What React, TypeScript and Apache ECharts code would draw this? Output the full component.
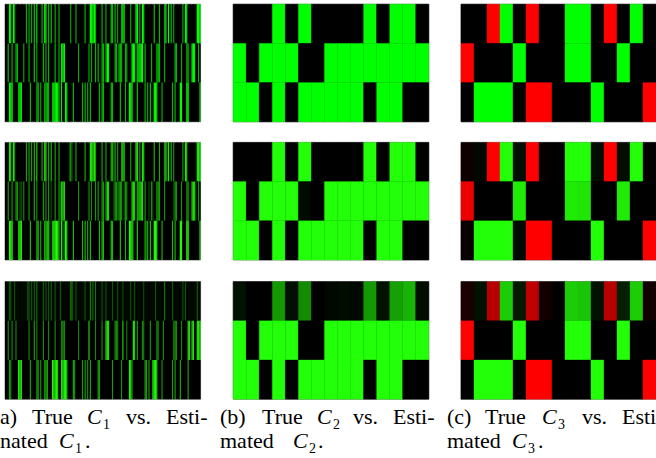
import React, { useEffect, useRef } from "react";
import * as echarts from "echarts";

// ---- Panel (a): 150 column cluster map; each list names the lit columns of one band
const A_TOP = [3,4,6,7,16,18,20,22,24,28,30,31,33,35,38,41,50,54,61,65,66,67,68,69,74,77,81,82,84,86,89,91,96,100,101,103,105,106,114,118,122,123,125,127,129,136,138,139,147,148,149];
const A_MID = [2,5,8,9,14,18,22,24,29,31,33,38,41,43,44,45,56,64,66,69,71,74,75,77,78,79,84,85,87,88,89,92,93,97,98,99,101,102,103,104,105,107,112,116,117,118,122,130,131,135,139,140,143,144,145,148];
const A_BOT = [3,4,5,10,11,12,19,24,25,27,30,31,32,33,36,37,38,39,40,41,43,46,47,52,59,61,63,65,72,74,75,81,82,88,92,95,96,97,101,107,109,111,114,115,116,120,128,130,134,135,139,140,149];
const A_TOP_BRIGHT = [3,4,6,24,30,31,65,66,67,68,90,100,101,105,106,123,125,138,139,147,148,149];
const A_MID_BRIGHT = [43,44,45,78,79,97,98,99,103,104,105,143,144,145];
const A_BOT_BRIGHT = [3,4,5,11,12,37,38,39,40,43,46,47,95,96,97,114,115,116,134,135,139,140];

const A2_TOP_FAINT = [49,51,83,124];
const A2_MID_FAINT = [11,12,35,42,83,86,91,110,113,129,146];
const A2_BOT_FAINT = [34,44,45,98,108];

const A3_TOP_STRONG = [24,50,51,65,67,69,122];
const A3_TOP_WEAK = [3,4,7,17,18,20,22,29,31,33,35,38,42,54,61,74,77,82,86,90,96,99,106,115,128,136,138,147];
const A3_MID_STRONG = [64,77,78,79,90,98,99,140,141,143,144,147,148,149];
const A3_MID_WEAK = [2,5,8,18,22,24,29,33,38,43,44,45,56,69,74,84,85,86,93,101,105,106,111,116,117,121,129,130,131,135];
const A3_BOT_STRONG = [10,11,12,36,37,38,39,40,43,44,45,46,47,95,96,113,114,115,116];
const A3_BOT_WEAK = [3,4,19,24,25,27,30,31,32,52,53,59,61,63,65,71,72,82,89,97,107,108,110,120,128,130,134,140];

// ---- Panel (b): 15 column cluster map
const B_TRUE = [
  [0,0,0,1,0,1,0,0,0,0,1,0,1,1,0],
  [1,0,1,1,1,0,0,1,1,1,1,1,1,1,1],
  [1,1,0,1,0,1,1,1,1,1,0,1,1,0,0],
];
const B_EST_2 = [
  [0,0,0,1,0,1,0,0,0,0,1,0,1,1,0],
  [1,0,1,1,1,0.04,0,1,1,1,1,1,1,1,1],
  [1,1,0,1,0,1,1,1,1,1,0,1,1,0,0],
];
const B_EST_3 = [
  [0.07,0,0,0.6,0.06,0.55,0,0.03,0.05,0.04,0.6,0.07,0.63,0.7,0.05],
  [1,0,1,1,1,0,0,1,1,1,1,1,1,1,1],
  [1,1,0,1,0,1,1,1,1,1,0,1,1,0,0],
];

// ---- Panel (c): 15 column cluster map, negative values are red
const C_TRUE = [
  [0,0,-1,1,0,-1,0,0,1,1,0,-1,0,1,0],
  [-1,0,0,0,1,0,0,0,1,1,0,0,1,0,0],
  [0,1,1,1,0,-1,-1,0,0,0,1,0,0,0,-1],
];
const C_EST_2 = [
  [-0.06,0.03,-1,1,0.06,-1,-0.02,0,1,1,0.05,-1,0.06,1,-0.02],
  [-0.92,0,0,0,0.92,0,0,0,0.92,0.9,0,0,0.92,0,0],
  [-0.04,1,1,1,0.04,-1,-1,0,0,0,1,0,0,0,-1],
];
const C_EST_3 = [
  [-0.1,0.07,-0.72,0.8,0.1,-0.75,-0.07,0,0.8,0.77,0.07,-0.72,0.12,0.8,-0.07],
  [-1,0,0,0,1,0,0,0,1,1,0,0,1,0,0],
  [0,1,1,1,0,-1,-1,0,0,0,1,0,0,0,-1],
];

const band = (groups: [number[], number][], base = 0) => {
  const out: number[] = new Array(150).fill(base);
  groups.forEach(([cols, level]) => cols.forEach((c) => { out[c] = level; }));
  return out;
};

const A_TRUE = [
  band([[A_TOP, 0.72], [A_TOP_BRIGHT, 1]]),
  band([[A_MID, 0.72], [A_MID_BRIGHT, 1]]),
  band([[A_BOT, 0.72], [A_BOT_BRIGHT, 1]]),
];
const A_EST_2 = [
  band([[A2_TOP_FAINT, 0.3], [A_TOP, 0.65], [A_TOP_BRIGHT, 0.9]]),
  band([[A2_MID_FAINT, 0.3], [A_MID, 0.6], [A_MID_BRIGHT, 0.85]]),
  band([[A2_BOT_FAINT, 0.35], [A_BOT, 0.72], [A_BOT_BRIGHT, 1]]),
];
const A_EST_3 = [
  band([[A3_TOP_WEAK, 0.34], [A3_TOP_STRONG, 0.48]], 0.04),
  band([[A3_MID_WEAK, 0.55], [A3_MID_STRONG, 0.88]]),
  band([[A3_BOT_WEAK, 0.62], [A3_BOT_STRONG, 0.95]]),
];

const PANEL_ROWS = [
  [A_TRUE, B_TRUE, C_TRUE],
  [A_EST_2, B_EST_2, C_EST_2],
  [A_EST_3, B_EST_3, C_EST_3],
];
const GREEN_TOPS = [[0, 255, 0], [34, 255, 8], [34, 255, 8]];

const COL_LEFT = [5, 233.2, 461];
const COL_WIDTH = 195.6;
const ROW_TOP = [4.2, 142.4, 281.6];
const ROW_HEIGHT = 117.6;

type Word = [string, number, number, string?];
const L1 = 427, L1S = 431, L2 = 451, L2S = 455;
const CAPTION_WORDS: Word[] = [
  ["a)", 0, L1], ["True", 32, L1], ["C", 87, L1, "i"], ["1", 103, L1S, "s"], ["vs.", 126, L1], ["Esti-", 166, L1],
  ["nated", 0, L2], ["C", 59, L2, "i"], ["1", 75, L2S, "s"], [".", 85, L2],
  ["(b)", 220, L1], ["True", 262, L1], ["C", 317, L1, "i"], ["2", 333, L1S, "s"], ["vs.", 353, L1], ["Esti-", 393, L1],
  ["mated", 220, L2], ["C", 293, L2, "i"], ["2", 309, L2S, "s"], [".", 318, L2],
  ["(c)", 447, L1], ["True", 485, L1], ["C", 542, L1, "i"], ["3", 558, L1S, "s"], ["vs.", 582, L1], ["Esti-", 622, L1],
  ["mated", 447, L2], ["C", 512, L2, "i"], ["3", 528, L2S, "s"], [".", 538, L2],
];

const shade = (v: number, green: number[]) => {
  const t = Math.abs(v);
  const to = v < 0 ? [255, 0, 0] : green;
  return `rgb(${Math.round(to[0] * t)},${Math.round(to[1] * t)},${Math.round(to[2] * t)})`;
};

export default function App() {
  const ref = useRef<HTMLDivElement>(null);
  useEffect(() => {
    const chart = echarts.init(ref.current!, undefined, { renderer: "svg" });
    const grid: any[] = [], xAxis: any[] = [], yAxis: any[] = [], series: any[] = [];
    PANEL_ROWS.forEach((row, r) => row.forEach((matrix, c) => {
      const i = grid.length;
      grid.push({
        left: COL_LEFT[c], top: ROW_TOP[r], width: COL_WIDTH, height: ROW_HEIGHT,
        show: true, backgroundColor: "#000", borderColor: "#8a8a8a", borderWidth: 1,
      });
      xAxis.push({ type: "category", gridIndex: i, show: false, data: matrix[0].map((_: number, k: number) => k) });
      yAxis.push({ type: "category", gridIndex: i, show: false, inverse: true, data: [0, 1, 2] });
      const data: number[][] = [];
      matrix.forEach((vals: number[], y: number) => vals.forEach((v, x) => data.push([x, y, v])));
      const seamFix = c > 0 ? 0.35 : 0;
      series.push({
        type: "custom", xAxisIndex: i, yAxisIndex: i, data, silent: true, clip: false,
        encode: { x: 0, y: 1 },
        renderItem: (_p: any, api: any) => {
          const p = api.coord([api.value(0), api.value(1)]);
          const s = api.size([1, 1]);
          const fill = shade(api.value(2), GREEN_TOPS[r]);
          return {
            type: "rect",
            shape: { x: p[0] - s[0] / 2, y: p[1] - s[1] / 2, width: s[0], height: s[1] },
            style: { fill, stroke: seamFix ? fill : "none", lineWidth: seamFix },
          };
        },
      });
    }));
    chart.setOption({
      animation: false,
      grid, xAxis, yAxis, series,
      tooltip: { show: false },
      graphic: CAPTION_WORDS.map(([text, x, y, kind]) => ({
        type: "text", x, y,
        style: {
          text,
          fill: "#000",
          fontFamily: "Liberation Serif",
          fontSize: kind === "s" ? 14 : 22,
          fontStyle: kind === "i" ? "italic" : "normal",
          textVerticalAlign: "bottom",
        },
      })),
    });
    return () => chart.dispose();
  }, []);
  return <div ref={ref} style={{ position: "absolute", left: 0, top: 0, width: 656, height: 458 }} />;
}
